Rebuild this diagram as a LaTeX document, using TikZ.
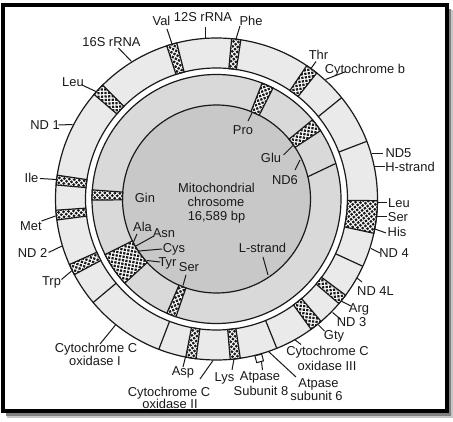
\documentclass[tikz,border=0pt]{standalone}
\usepackage{fontspec}
\setmainfont{Liberation Sans}
\definecolor{ringout}{HTML}{EAEAEA}
\definecolor{ringin}{HTML}{D9D9D9}
\definecolor{disc}{HTML}{C8C8C8}
\definecolor{ink}{HTML}{1A1A1A}
\tikzset{
  ln/.style={draw=ink, line width=1.2pt},
  tk/.style={draw=ink, line width=1pt},
  lbl/.style={font=\fontsize{12.9}{14}\selectfont, inner sep=0pt, text=ink, anchor=base},
  dot/.style={fill=ink},
}
\newcommand{\boxpath}[4]{(#1:#3pt) arc[start angle=#1, end angle=#2, radius=#3pt]
     -- (#2:#4pt) arc[start angle=#2, end angle=#1, radius=#4pt] -- cycle}
\newcommand{\ringbox}[4]{%
  \begin{scope}
    \path[clip] \boxpath{#1}{#2}{#3}{#4};
    \fill[white] \boxpath{#1}{#2}{#3}{#4};
    \pgfmathsetmacro\ac{(#1+#2)/2}
    \pgfmathsetmacro\rc{(#3+#4)/2}
    \begin{scope}[shift={(\ac:\rc pt)}, rotate=\ac]
      \foreach \i in {-7,...,7}{
        \pgfmathsetmacro\off{mod(abs(\i),2)*2.5}
        \foreach \j in {-4,...,4}{
          \fill[dot] (\i*2.5pt, \j*5pt+\off pt) circle[radius=1.6pt];
        }
      }
    \end{scope}
  \end{scope}
  \draw[ln] \boxpath{#1}{#2}{#3}{#4};}
\newcommand{\divline}[3]{\draw[ln] (#1:#2pt) -- (#1:#3pt);}
\newcommand{\tickline}[3]{\coordinate (#1a) at (#2); \coordinate (#1b) at (#3); \draw[tk] (#1a) -- (#1b);}
\begin{document}
\begin{tikzpicture}[x=1pt,y=-1pt]
\useasboundingbox (0,0) rectangle (453,422);
% frame with shadow
\fill[black!22] (7,10) rectangle (453,418);
\fill[black!50] (6,9) rectangle (450.5,415.5);
\draw[line width=4pt, fill=white] (2.5,5) rectangle (446.5,410.5);

\begin{scope}[shift={(216.5,199)}]
  \fill[ringout] (0,0) circle[radius=161pt];
  \fill[white] (0,0) circle[radius=131pt];
  \fill[ringin] (0,0) circle[radius=124.5pt];
  \fill[disc] (0,0) circle[radius=94pt];
  \draw[ln] (0,0) circle[radius=161pt];
  \draw[ln] (0,0) circle[radius=131pt];
  \draw[ln] (0,0) circle[radius=124.5pt];
  \draw[ln] (0,0) circle[radius=94pt];
  % outer ring dividers
  \divline{39}{131}{161}
  \divline{21}{131}{161}
  \divline{-24.7}{131}{161}
  \divline{-68}{131}{161}
  \divline{-111}{131}{161}
  \divline{-140}{131}{161}
  % inner ring divider
  \draw[ln] (13.7:94pt) -- (16.6:124.5pt);
  % outer ring tRNA boxes
  \ringbox{104.3}{108}{131}{161}
  \ringbox{81.3}{84.6}{131}{161}
  \ringbox{51.5}{55.9}{131}{161}
  \ringbox{-12.3}{-0.6}{131}{161}
  \ringbox{-40.5}{-36.7}{131}{161}
  \ringbox{-54}{-49.5}{131}{161}
  \ringbox{-85.1}{-81.5}{131}{161}
  \ringbox{-101}{-97.3}{131}{161}
  \ringbox{-156}{-152}{131}{161}
  \ringbox{-176}{-172.5}{131}{161}
  \ringbox{171.5}{175}{131}{161}
  \ringbox{135}{139.5}{131}{161}
  % inner ring tRNA boxes
  \ringbox{63}{68.5}{94}{124.5}
  \ringbox{33.3}{39.5}{94}{124.5}
  \ringbox{175.8}{180.5}{94}{124.5}
  \ringbox{-153.5}{-137.5}{94}{124.5}
  \ringbox{-113.5}{-109}{94}{124.5}
  % ATPase 8 marker
  \node[draw=ink, line width=1pt, fill=white, minimum size=7pt, inner sep=0pt, rotate=15] (atpsq) at (-75:165pt) {};
\end{scope}

% ticks
\tickline{val}{167,29}{172,44}
\tickline{sdz}{205,27}{205,38.4}
\tickline{phe}{240,26}{236,39}
\tickline{ssx}{118.5,48}{131.5,61.5}
\tickline{leua}{82,85}{97,92}
\tickline{ndo}{58.5,125}{72.5,124.5}
\tickline{ile}{40,178.5}{56,179.5}
\tickline{met}{41.5,221}{55.5,216}
\tickline{ndt}{48.5,252.5}{62,246}
\tickline{trp}{61.5,279.5}{71.5,271}
\tickline{coi}{100,344}{115.5,325}
\tickline{asp}{183,367}{185.5,357}
\tickline{coii}{200,379}{213,360.5}
\tickline{lys}{232,370}{234,359}
\tickline{atpe}{261.5,361.5}{262.5,370}
\tickline{atps}{268.5,351.5}{296,377}
\tickline{coiii}{294.5,339.5}{301,344.5}
\tickline{gty}{318.5,325}{324.5,331}
\tickline{ndth}{332.5,312.5}{341,319.5}
\tickline{arg}{341,301}{351,306}
\tickline{ndfl}{357,278}{362,282}
\tickline{ndf}{371,248.5}{380,253}
\tickline{his}{375,229}{386,233}
\tickline{serb}{377,216.5}{387,216.5}
\tickline{leub}{377.5,203}{387,203}
\tickline{hst}{374.3,166.7}{384.5,166.7}
\tickline{ndfv}{372,154}{383,154}
\tickline{cytb}{325.5,79.5}{346,71.5}
\tickline{thr}{311,68.5}{316,61.5}
\tickline{pro}{252,113}{248,121}
\tickline{glu}{293.5,145}{283.5,155}
\tickline{ndsx}{300,160}{295,170}
\tickline{lst}{263,257}{268,275}
\tickline{ala}{137,234}{133.5,242}
\tickline{asn}{153,236.5}{135,246.5}
\tickline{cys}{162,249}{139,251}
\tickline{tyr}{160,262}{147,260.5}
\tickline{sera}{183,285.5}{186,275}

% labels
\node[lbl] (tVal) at (161.5,25.6) {Val};
\node[lbl] (tSdz) at (203,21.6) {12S rRNA};
\node[lbl] (tPhe) at (251,25.6) {Phe};
\node[lbl] (tSsx) at (111.5,46.6) {16S rRNA};
\node[lbl] (tLeuA) at (73,86.6) {Leu};
\node[lbl] (tNDo) at (45,129.6) {ND 1};
\node[lbl] (tIle) at (31.5,182.6) {Ile};
\node[lbl] (tMet) at (31,230.6) {Met};
\node[lbl] (tNDt) at (32.5,257.6) {ND 2};
\node[lbl] (tTrp) at (51.5,285.6) {Trp};
\node[lbl] (tCOIa) at (96,352.6) {Cytochrome C};
\node[lbl] (tCOIb) at (95,365.6) {oxidase I};
\node[lbl] (tAsp) at (183,375.6) {Asp};
\node[lbl] (tCOIIa) at (169,396.6) {Cytochrome C};
\node[lbl] (tCOIIb) at (170,408) {oxidase II};
\node[lbl] (tLys) at (224.5,381.6) {Lys};
\node[lbl] (tAtpEa) at (260,380.6) {Atpase};
\node[lbl] (tAtpEb) at (261,395.6) {Subunit 8};
\node[lbl] (tAtpSa) at (318.5,387.6) {Atpase};
\node[lbl] (tAtpSb) at (316.5,400.6) {subunit 6};
\node[lbl] (tCOIIIa) at (327.5,355.6) {Cytochrome C};
\node[lbl] (tCOIIIb) at (327,370.6) {oxidase III};
\node[lbl] (tGty) at (334,339.1) {Gty};
\node[lbl] (tNDth) at (351.5,326.6) {ND 3};
\node[lbl] (tArg) at (359,312.6) {Arg};
\node[lbl] (tNDfl) at (375.5,295.6) {ND 4L};
\node[lbl] (tNDf) at (394,257.6) {ND 4};
\node[lbl] (tHis) at (397,236.6) {His};
\node[lbl] (tSerB) at (398,221.6) {Ser};
\node[lbl] (tLeuB) at (399,207.6) {Leu};
\node[lbl] (tHst) at (410,171.6) {H-strand};
\node[lbl] (tNDfv) at (398.5,157.6) {ND5};
\node[lbl] (tCytb) at (365,73.6) {Cytochrome b};
\node[lbl] (tThr) at (318.5,59.6) {Thr};
\node[lbl] (tPro) at (243,134.6) {Pro};
\node[lbl] (tGlu) at (271,162.6) {Glu};
\node[lbl] (tNDsx) at (285,184.6) {ND6};
\node[lbl] (tGin) at (145,202.6) {Gin};
\node[lbl] (tMito) at (216.5,192.6) {Mitochondrial};
\node[lbl] (tChro) at (216,206.6) {chrosome};
\node[lbl] (tBp) at (216.5,220.6) {16,589 bp};
\node[lbl] (tLst) at (262.5,252.6) {L-strand};
\node[lbl] (tAla) at (142.5,231.6) {Ala};
\node[lbl] (tAsn) at (164,237.6) {Asn};
\node[lbl] (tCys) at (174,252.6) {Cys};
\node[lbl] (tTyr) at (167.5,266.6) {Tyr};
\node[lbl] (tSerA) at (189,271.6) {Ser};
\end{tikzpicture}
\end{document}
